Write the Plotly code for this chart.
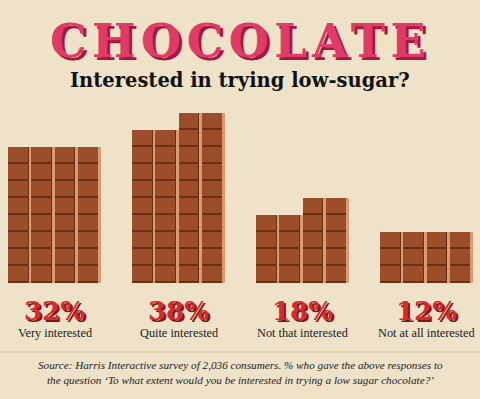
import plotly.graph_objects as go

categories = ["Very interested", "Quite interested", "Not that interested", "Not at all interested"]
values = [32, 38, 18, 12]
pct_labels = ["32%", "38%", "18%", "12%"]
title_text = "CHOCOLATE"
subtitle_text = "Interested in trying low-sugar?"
source_lines = [
    "Source: Harris Interactive survey of 2,036 consumers. % who gave the above responses to",
    "the question \u2018To what extent would you be interested in trying a low sugar chocolate?\u2019",
]

N_COLS = 4
GROUP = 16 / 3

BG = "#eee3c9"
CHOC = "#9c4d29"
CHOC_DARK = "#6a2f15"
CHOC_LIGHT = "#d99a76"

W, H = 480, 399

col_x, col_h = [], []
sq_x, sq_base = [], []
for i, v in enumerate(values):
    base, rem = divmod(v, N_COLS)
    for j in range(N_COLS):
        h = base + (1 if j >= N_COLS - rem else 0)
        x = i * GROUP + j
        col_x.append(x)
        col_h.append(h)
        for r in range(h):
            sq_x.append(x)
            sq_base.append(r + 0.12)

fig = go.Figure()
fig.add_trace(go.Bar(x=col_x, y=col_h, width=1.0, marker=dict(color=CHOC_DARK, line=dict(width=0)),
                     hoverinfo="skip", showlegend=False))
fig.add_trace(go.Bar(x=col_x, y=col_h, width=0.11, offset=0.39,
                     marker=dict(color=CHOC_LIGHT, line=dict(width=0)),
                     hoverinfo="skip", showlegend=False))
fig.add_trace(go.Bar(x=sq_x, y=[0.88] * len(sq_x), base=sq_base, width=0.85, offset=-0.5,
                     marker=dict(color=CHOC, line=dict(width=0)),
                     hoverinfo="skip", showlegend=False))

px_per_x = 23.25
x0 = -0.5 - 8 / px_per_x
x1 = x0 + W / px_per_x
px_per_y = 17.0
y0 = -(H - 283) / px_per_y
y1 = 283 / px_per_y

def py(p):
    return 1 - p / H

ann = []
ann.append(dict(text='<span style="letter-spacing:5.5px">' + title_text + '</span>', x=0.5, y=py(41),
                xref="paper", yref="paper", showarrow=False,
                font=dict(family="DejaVu Serif", size=46, color="#e23a66", weight="bold",
                          shadow="3px 3px 0 #a3193f"),
                xanchor="center", yanchor="middle"))
ann.append(dict(text="<b>" + subtitle_text + "</b>", x=0.5, y=py(80), xref="paper", yref="paper",
                showarrow=False, font=dict(family="DejaVu Serif", size=19.5, color="#111111"),
                xanchor="center", yanchor="middle"))
for i, (c, p) in enumerate(zip(categories, pct_labels)):
    cx = i * GROUP + 1.5
    ann.append(dict(text=p, x=cx, y=py(311), xref="x", yref="paper", showarrow=False,
                    font=dict(family="DejaVu Serif", size=26, color="#d62a2e", weight="bold",
                              shadow="2px 2px 0 #7e1414"),
                    xanchor="center", yanchor="middle"))
    ann.append(dict(text=c, x=cx, y=py(333), xref="x", yref="paper", showarrow=False,
                    font=dict(family="Liberation Serif", size=12.3, color="#1a1a1a"),
                    xanchor="center", yanchor="middle"))
for k, line in enumerate(source_lines):
    ann.append(dict(text="<i>" + line + "</i>", x=0.5, y=py(365 + 15 * k), xref="paper", yref="paper",
                    showarrow=False, font=dict(family="Liberation Serif", size=11.2, color="#222222"),
                    xanchor="center", yanchor="middle"))

fig.update_layout(
    width=W, height=H,
    margin=dict(l=0, r=0, t=0, b=0),
    paper_bgcolor=BG, plot_bgcolor=BG,
    barmode="overlay",
    bargap=0,
    xaxis=dict(range=[x0, x1], visible=False, fixedrange=True),
    yaxis=dict(range=[y0, y1], visible=False, fixedrange=True),
    annotations=ann,
    shapes=[dict(type="line", xref="paper", yref="paper", x0=0, x1=1, y0=py(352), y1=py(352),
                 line=dict(color="#d8ccb0", width=1.5))],
)

fig.write_html(
    "out.html",
    config={"displayModeBar": False},
    post_script="document.body.style.margin='0';document.body.style.overflow='hidden';"
                "document.body.style.background='" + BG + "';",
)
